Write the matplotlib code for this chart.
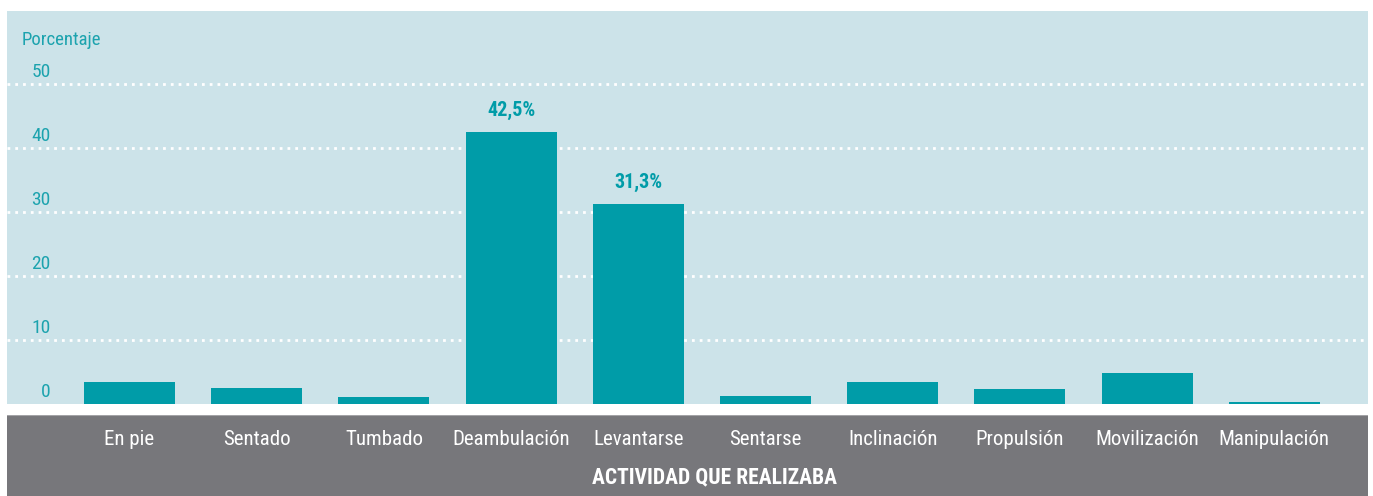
import matplotlib.pyplot as plt
from matplotlib.transforms import blended_transform_factory

# data
categories = ['En pie', 'Sentado', 'Tumbado', 'Deambulación', 'Levantarse',
              'Sentarse', 'Inclinación', 'Propulsión', 'Movilización', 'Manipulación']
values = [3.5, 2.5, 1.1, 42.5, 31.3, 1.3, 3.5, 2.4, 4.9, 0.3]
labelled = {3: '42,5%', 4: '31,3%'}
yticks = [0, 10, 20, 30, 40, 50]

teal = '#009ca8'
teal_txt = '#1ca3ae'
panel = '#cce3e9'
band = '#77777b'

plt.rcParams['font.family'] = ['Roboto Condensed', 'Roboto', 'DejaVu Sans']

W, H = 1373, 496
fig = plt.figure(figsize=(W / 100, H / 100), dpi=100)

# grey band at the bottom
bx = fig.add_axes([7 / W, 0, 1361 / W, 81 / H])
bx.set_facecolor(band)
bx.set_xticks([])
bx.set_yticks([])
for s in bx.spines.values():
    s.set_visible(False)
bx.axhline(1, color='#a3a3a6', lw=1.5)

ax = fig.add_axes([7 / W, 92 / H, 1361 / W, 393 / H])
ax.set_zorder(2)
ax.set_facecolor(panel)
x = list(range(len(categories)))
ax.bar(x, values, width=0.715, color=teal, zorder=3)
ax.set_xlim(-0.963, 9.737)
ax.set_ylim(0, 61.4)

for v in yticks[1:]:
    ax.axhline(v, color='white', lw=2, ls=(0, (1, 1.8)), zorder=1)

trans = blended_transform_factory(ax.transAxes, ax.transData)
for v in yticks:
    ax.text(0.032, v + 1.9, str(v), transform=trans, ha='right', va='center',
            color=teal_txt, fontsize=14)
ax.text(0.011, 56.9, 'Porcentaje', transform=trans, ha='left', va='center',
        color=teal_txt, fontsize=13.5)

for i, lab in labelled.items():
    ax.text(i, values[i] + 3.3, lab, ha='center', va='center', color=teal,
            fontsize=14.5, fontweight='bold')

ax.set_xticks(x)
ax.set_xticklabels(categories, fontsize=15, color='white')
ax.tick_params(axis='x', length=0, pad=19)
ax.set_yticks([])
for s in ax.spines.values():
    s.set_visible(False)

fig.text(714 / W, 1 - 477 / H, 'ACTIVIDAD QUE REALIZABA', ha='center', va='center',
         color='white', fontsize=15.5, fontweight='bold')

fig.savefig('out.png', dpi=100)
